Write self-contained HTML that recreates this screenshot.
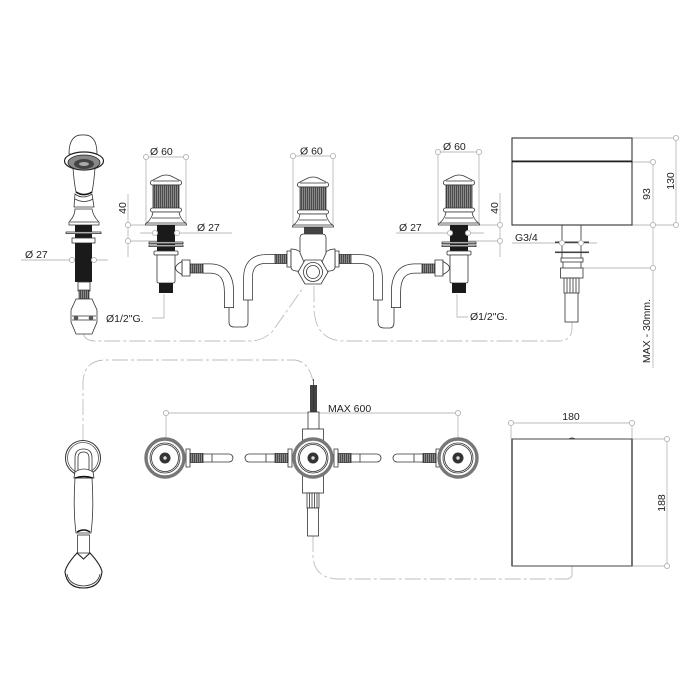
<!DOCTYPE html>
<html><head><meta charset="utf-8"><style>
html,body{margin:0;padding:0;background:#fff;width:700px;height:700px;overflow:hidden}
svg{display:block}
text{font-family:"Liberation Sans",sans-serif;font-size:10.5px;fill:#222}
.d{fill:none;stroke:#bbb;stroke-width:.9}
.c{fill:#fff;stroke:#b5b5b5;stroke-width:.9}
.k{fill:none;stroke:#bdbdbd;stroke-width:.9;stroke-dasharray:16 3 3 3}
.l{fill:#fff;stroke:#333;stroke-width:.8}
.n{fill:none;stroke:#333;stroke-width:.8}
.t{fill:#1a1a1a;stroke:none}
</style></head><body>
<svg width="700" height="700" viewBox="0 0 700 700" xmlns="http://www.w3.org/2000/svg">
<defs>
<pattern id="st" width="2" height="4" patternUnits="userSpaceOnUse"><rect width="2" height="4" fill="#8a8a8a"/><rect width=".9" height="4" fill="#444"/></pattern>
<g id="knob">
<path class="l" d="M-5 -49 Q0 -51 5 -49 L15 -44 Q16.500 -41 14 -40 L-14 -40 Q-16.500 -41 -15 -44Z"/>
<path class="n" d="M-13 -44 H13"/>
<rect x="-13" y="-40" width="26" height="24" fill="url(#st)" stroke="#333" stroke-width=".8"/>
<rect class="l" x="-15.500" y="-17" width="31" height="4" rx="2"/>
<path class="l" d="M-13 -13 H13 Q14 -6 20.500 -1 V0 H-20.500 V-1 Q-14 -6 -13 -13Z"/>
<path class="n" d="M-14 -7 H14 M-19 -2 H19"/>
</g>
<g id="side">
<use href="#knob"/>
<rect class="t" x="-9" y="0" width="18" height="30"/>
<rect class="l" x="-17" y="17" width="34" height="1.600"/>
<rect class="l" x="-17" y="20" width="34" height="1.600"/>
<rect class="l" x="-12" y="26" width="24" height="4" rx="1"/>
<path class="l" d="M-9 30 H9 V56 Q9 58 7 58 H-7 Q-9 58 -9 56Z"/>
<rect class="t" x="-7" y="58" width="14" height="10"/>
</g>
<g id="top">
<circle cx="0" cy="0" r="19" fill="#fff" stroke="#777" stroke-width="3.400"/>
<circle cx="0" cy="0" r="15" fill="none" stroke="#333" stroke-width=".8"/>
<circle cx="0" cy="0" r="13.500" fill="none" stroke="#333" stroke-width=".8"/>
<circle cx="0" cy="0" r="5.500" fill="#333"/>
<circle cx="0" cy="0" r="1.700" fill="#ddd"/>
</g>
<g id="lever">
<path class="l" d="M0 -9 H4 V9 H0Z"/>
<rect x="4" y="-4.500" width="13" height="9" fill="url(#st)" stroke="#333" stroke-width=".8"/>
<path class="l" d="M17 -4 H43 A4 4 0 0 1 43 4 H17Z"/>
<path class="n" d="M26 -4 V4"/>
</g>
</defs>

<!-- hoses dashed -->
<path class="k" d="M83 333 Q85 341 95 341 H250 Q262 341 272 332 L303 288"/>
<path class="k" d="M314 286 V308 Q315 341 345 341 H558 Q572 341 572 328 V322"/>
<path class="k" d="M83 440 V384 Q83 360 106 360 H293 Q308 360 313 381"/>
<path class="k" d="M313 536 V556 Q314 579 340 579 H566"/>
<path class="d" d="M572 566 V574 Q572 579 566 579"/>

<!-- dimension lines -->
<g>
<path class="d" d="M146 157 H186 M146 157 V225 M186 157 V225"/>
<path class="d" d="M128 194 V257 M128 225 H157 M128 241 H157 M140 233 H232"/>
<path class="d" d="M21 260 H108"/>
<path class="d" d="M293 156 H333 M293 156 V226 M333 156 V226"/>
<path class="d" d="M438 152 H479 M438 152 V225 M479 152 V225"/>
<path class="d" d="M500 193 V257 M480 225 H500 M468 241 H500 M396 233 H484"/>
<path class="d" d="M164 294 V318 H152"/>
<path class="d" d="M457 294 V317 H468"/>
<path class="d" d="M512 243 H597"/>
<path class="d" d="M632 138 H676 V225 M632 162 H653 V368 M632 225 H676 M583 268 H653"/>
<path class="d" d="M166 413 H458 M166 413 V450 M458 413 V450"/>
<path class="d" d="M511 423 H632 M511 423 V439 M632 423 V439"/>
<path class="d" d="M632 439 H667 V566 H632"/>
</g>

<!-- shower upper -->
<path class="l" d="M69 154 Q69 134 83 135 Q97 134 97 154Z"/>
<path class="l" d="M73 168 Q74 182 76 192 Q83 198 92 192 Q94 182 95 168Z"/>
<path d="M76 192 Q84 197 92 192" fill="none" stroke="#111" stroke-width="1.500"/>
<ellipse cx="84" cy="161" rx="19.500" ry="9" fill="#fff" stroke="#222" stroke-width="1.200"/>
<ellipse cx="84" cy="162.500" rx="16" ry="7.500" fill="#888" stroke="#222" stroke-width=".8"/>
<ellipse cx="84" cy="164" rx="10" ry="5" fill="#444"/>
<ellipse cx="84" cy="164" rx="5" ry="2" fill="#aaa"/>
<path class="l" d="M75 194 Q83 200 92 194 L94 207 H74Z"/>
<path class="n" d="M75 199 Q84 204 93 199"/>
<path class="l" d="M75 209 H92 Q93 216 99 222 V225 H69 V222 Q75 216 75 209Z"/>
<path class="n" d="M70 222 H98"/>
<rect class="t" x="75" y="225" width="17" height="14"/>
<rect class="l" x="66" y="232" width="35" height="1.600"/>
<rect class="l" x="72" y="238" width="23" height="5"/>
<rect class="t" x="75" y="243" width="17" height="39"/>
<rect class="l" x="78" y="282" width="12" height="9"/>
<rect x="79" y="290" width="10" height="9" fill="url(#st)" stroke="#333" stroke-width=".7"/>
<path class="l" d="M76 299 H92 L97 310 V322 L92 334 H76 L71 322 V310Z"/>
<path class="n" d="M72 316 H96 M72 320 H96"/>
<circle cx="76" cy="318" r="2.300" fill="#555"/><circle cx="91" cy="318" r="2.300" fill="#555"/>

<!-- pipes -->
<path class="n" d="M229 307 V322 Q229 327 234 327 H244 Q248 327 248 322 V300"/>
<path class="n" d="M378 300 V322 Q378 328 384 328 H390 Q394 328 394 322 V307"/>

<g id="pl">
<path d="M203 268.500 H210 Q229 268.500 229 292 V308" fill="none" stroke="#333" stroke-width="10"/>
<path d="M203 268.500 H210 Q229 268.500 229 292 V308" fill="none" stroke="#fff" stroke-width="8.400"/>
<path class="n" d="M224.500 307.500 H233.500"/>
<rect x="190" y="264" width="13" height="9" fill="url(#st)" stroke="#333" stroke-width=".8"/>
<path class="l" d="M182 260 H190 V276 H182Z"/>
<path class="l" d="M182 261.500 Q169 268 182 274.500Z"/>
</g>
<g transform="translate(625,0) scale(-1,1)"><use href="#pl"/></g>

<!-- top valves -->
<use href="#side" x="166" y="225"/>
<g transform="translate(459,225) scale(-1,1)"><use href="#side"/></g>

<!-- centre valve pipes -->
<g id="cp">
<path d="M276 259 H266 Q248 259 248 278 V300" fill="none" stroke="#333" stroke-width="9.500"/>
<path d="M276 259 H266 Q248 259 248 278 V300" fill="none" stroke="#fff" stroke-width="8"/>
<path class="n" d="M243.200 300 H252.800"/>
<rect x="275" y="254.500" width="12" height="9" fill="url(#st)" stroke="#333" stroke-width=".8"/>
<path class="l" d="M287 251 H291 V267 H287Z"/>
<path class="l" d="M291 249 Q303 249 307 264 L302 271 Q291 272 291 267Z"/>
</g>
<g transform="translate(626,0) scale(-1,1)"><use href="#cp"/></g>
<rect x="304" y="227" width="19" height="7" fill="#444"/>
<path class="l" d="M300 253 V238 Q300 234 304 234 H322 Q326 234 326 238 V253 L322 262 H304Z"/>
<use href="#knob" x="313" y="227"/>
<path class="l" d="M305 260 H321 L328 272 L321 284 H305 L298 272Z" stroke-width="1.100"/>
<circle cx="313" cy="272" r="9.500" class="l"/>
<circle cx="313" cy="272" r="6.500" class="l"/>

<!-- box side -->
<path class="n" d="M562 225 V262 M581 225 V262"/>
<rect x="555" y="241.500" width="34" height="1.600" fill="#444"/>
<rect x="555" y="251.500" width="34" height="1.600" fill="#444"/>
<rect class="l" x="561" y="258" width="22" height="4"/>
<rect class="l" x="560.500" y="268" width="22.500" height="10"/>
<path class="n" d="M563 262 V268 M581 262 V268"/>
<rect class="l" x="565" y="290" width="13" height="32"/>
<rect class="l" x="564" y="278" width="15" height="15"/>
<path class="n" d="M567 278 V293 M570 278 V293 M573 278 V293 M576 278 V293"/>
<rect x="512" y="138" width="120" height="87" fill="#fff" stroke="#333" stroke-width="1.100"/>
<rect x="512" y="160.500" width="120" height="1.800" fill="#222"/>

<!-- bottom-row shower -->
<circle cx="83" cy="458" r="17.500" fill="#fff" stroke="#333" stroke-width="1"/>
<circle cx="83" cy="458" r="15.500" fill="none" stroke="#555" stroke-width=".8"/>
<path class="l" d="M75 474 V458 Q75 449 83.500 449 Q92 449 92 458 V474Z"/>
<path class="n" d="M78 472 V458 Q78 452 83.500 452 Q89 452 89 458 V472"/>
<path class="l" d="M75 478 Q73 510 76 533 H91 Q94 510 92 478Z"/>
<path class="l" d="M75 472 Q84 466 93 472 L94 478 H74Z"/>
<path d="M75 478 Q84 475 93 478" fill="none" stroke="#111" stroke-width="1.400"/>
<path d="M77 532 Q84 528 90 532" fill="none" stroke="#111" stroke-width="1.400"/>
<rect class="l" x="77.500" y="535" width="12" height="18"/>
<path d="M77 553 L83.500 559 L90 553 Q101 565 102 572 Q100 588 83.500 588 Q67 588 65 572 Q66 565 77 553Z" fill="#fff" stroke="#222" stroke-width="1.100"/>
<path class="n" d="M67 574 Q69 585 83.500 586 Q98 585 100 574"/>

<!-- bottom valves -->
<use href="#lever" x="186" y="458"/>
<use href="#top" x="165" y="458"/>
<g transform="translate(440,458) scale(-1,1)"><use href="#lever"/></g>
<use href="#top" x="458" y="458"/>

<!-- centre bottom -->
<rect x="310" y="385" width="7" height="27" fill="#444"/>
<path class="n" d="M313.500 379 V412"/>
<rect class="l" x="308" y="412" width="11" height="17"/>
<rect class="l" x="302.500" y="429" width="21" height="64"/>
<rect class="l" x="307" y="493" width="12" height="15"/>
<path class="n" d="M309.500 493 V508 M312 493 V508 M314.500 493 V508 M317 493 V508"/>
<rect class="l" x="307.500" y="508" width="11" height="28"/>
<use href="#lever" x="334" y="458"/>
<g transform="translate(292,458) scale(-1,1)"><use href="#lever"/></g>
<use href="#top" x="313" y="458"/>

<!-- box top -->
<rect x="512" y="439" width="120" height="127" fill="#fff" stroke="#444" stroke-width="1"/>
<path d="M512 439 V566 M632 439 V566" stroke="#555" stroke-width="1.600"/>
<path d="M568 439 Q572 436 576 439Z" fill="#444"/>

<!-- circles -->
<g class="c">
<circle cx="146" cy="157" r="2.600"/><circle cx="186" cy="157" r="2.600"/>
<circle cx="128" cy="225" r="2.600"/><circle cx="128" cy="241" r="2.600"/>
<circle cx="155" cy="233" r="2.600"/><circle cx="177" cy="233" r="2.600"/>
<circle cx="72" cy="260" r="2.600"/><circle cx="94" cy="260" r="2.600"/>
<circle cx="293" cy="156" r="2.600"/><circle cx="333" cy="156" r="2.600"/>
<circle cx="438" cy="152" r="2.600"/><circle cx="479" cy="152" r="2.600"/>
<circle cx="500" cy="225" r="2.600"/><circle cx="500" cy="241" r="2.600"/>
<circle cx="450" cy="233" r="2.600"/><circle cx="468" cy="233" r="2.600"/>
<circle cx="562" cy="243" r="2.600"/><circle cx="581" cy="243" r="2.600"/>
<circle cx="676" cy="138" r="2.600"/><circle cx="676" cy="225" r="2.600"/>
<circle cx="653" cy="162" r="2.600"/><circle cx="653" cy="225" r="2.600"/><circle cx="653" cy="268" r="2.600"/>
<circle cx="166" cy="413" r="2.600"/><circle cx="458" cy="413" r="2.600"/>
<circle cx="511" cy="423" r="2.600"/><circle cx="632" cy="423" r="2.600"/>
<circle cx="667" cy="439" r="2.600"/><circle cx="667" cy="566" r="2.600"/>
</g>

<!-- labels -->
<text x="150" y="155">Ø 60</text>
<text x="300" y="154.500">Ø 60</text>
<text x="443" y="150">Ø 60</text>
<text x="197" y="231">Ø 27</text>
<text x="25" y="258">Ø 27</text>
<text x="399" y="231">Ø 27</text>
<text x="106" y="322">Ø1/2"G.</text>
<text x="470" y="320">Ø1/2"G.</text>
<text x="515" y="241">G3/4</text>
<text x="328" y="412">MAX 600</text>
<text x="571" y="420" text-anchor="middle">180</text>
<text transform="translate(126,208) rotate(-90)" text-anchor="middle">40</text>
<text transform="translate(498,208) rotate(-90)" text-anchor="middle">40</text>
<text transform="translate(674,181) rotate(-90)" text-anchor="middle">130</text>
<text transform="translate(650,194) rotate(-90)" text-anchor="middle">93</text>
<text transform="translate(650,331) rotate(-90)" text-anchor="middle">MAX - 30mm.</text>
<text transform="translate(665,503) rotate(-90)" text-anchor="middle">188</text>
</svg>
</body></html>
